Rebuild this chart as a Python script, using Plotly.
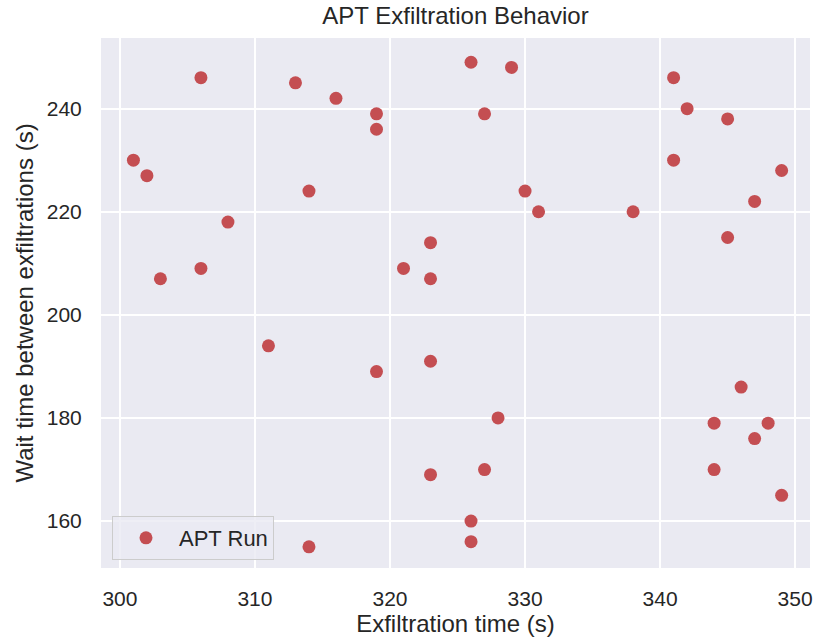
import plotly.graph_objects as go

exfil_time = [306, 313, 316, 319, 319, 301, 302, 314, 308, 323, 321, 306, 303, 323,
              326, 329, 327, 341, 342, 345, 341, 349, 330, 331, 338, 347, 345,
              311, 319, 323, 323, 314,
              328, 327, 326, 326, 346, 344, 348, 347, 344, 349]
wait_time = [246, 245, 242, 239, 236, 230, 227, 224, 218, 214, 209, 209, 207, 207,
             249, 248, 239, 246, 240, 238, 230, 228, 224, 220, 220, 222, 215,
             194, 189, 191, 169, 155,
             180, 170, 160, 156, 186, 179, 179, 176, 170, 165]

x_ticks = [300, 310, 320, 330, 340, 350]
y_ticks = [160, 180, 200, 220, 240]

FONT = "Liberation Sans, Arial, sans-serif"
TXT = "#262626"

fig = go.Figure()
fig.add_trace(go.Scatter(
    x=exfil_time, y=wait_time, mode="markers", name="APT Run",
    marker=dict(color="#C44E52", size=13, line=dict(width=0)),
))

fig.update_layout(
    width=815, height=641,
    margin=dict(l=101, r=2, t=38, b=73),
    paper_bgcolor="white", plot_bgcolor="#EAEAF2",
    font=dict(family=FONT, color=TXT, size=21),
    title=dict(text="APT Exfiltration Behavior", x=0.5, xref="paper",
               y=1 - 16 / 641, yref="container", yanchor="middle",
               font=dict(size=24, color=TXT, family=FONT)),
    showlegend=True,
    legend=dict(x=0.0155, y=0.015, xanchor="left", yanchor="bottom",
                bgcolor="rgba(234,234,242,0.8)", bordercolor="#CCCCCC", borderwidth=1,
                itemwidth=56,
                font=dict(size=22, color=TXT, family=FONT)),
    xaxis=dict(range=[298.6, 351.1], tickvals=x_ticks, showgrid=True,
               gridcolor="white", gridwidth=1.5, zeroline=False, showline=False,
               ticks="outside", ticklen=12, tickcolor="rgba(0,0,0,0)",
               tickfont=dict(size=21), ticklabeloverflow="allow",
               title=dict(text="Exfiltration time (s)", standoff=5,
                          font=dict(size=24, color=TXT, family=FONT))),
    yaxis=dict(range=[150.9, 253.7], tickvals=y_ticks, showgrid=True,
               gridcolor="white", gridwidth=1.5, zeroline=False, showline=False,
               ticks="outside", ticklen=14, tickcolor="rgba(0,0,0,0)",
               tickfont=dict(size=21),
               title=dict(text="Wait time between exfiltrations (s)", standoff=6,
                          font=dict(size=24, color=TXT, family=FONT))),
)

fig.write_html("out.html")
